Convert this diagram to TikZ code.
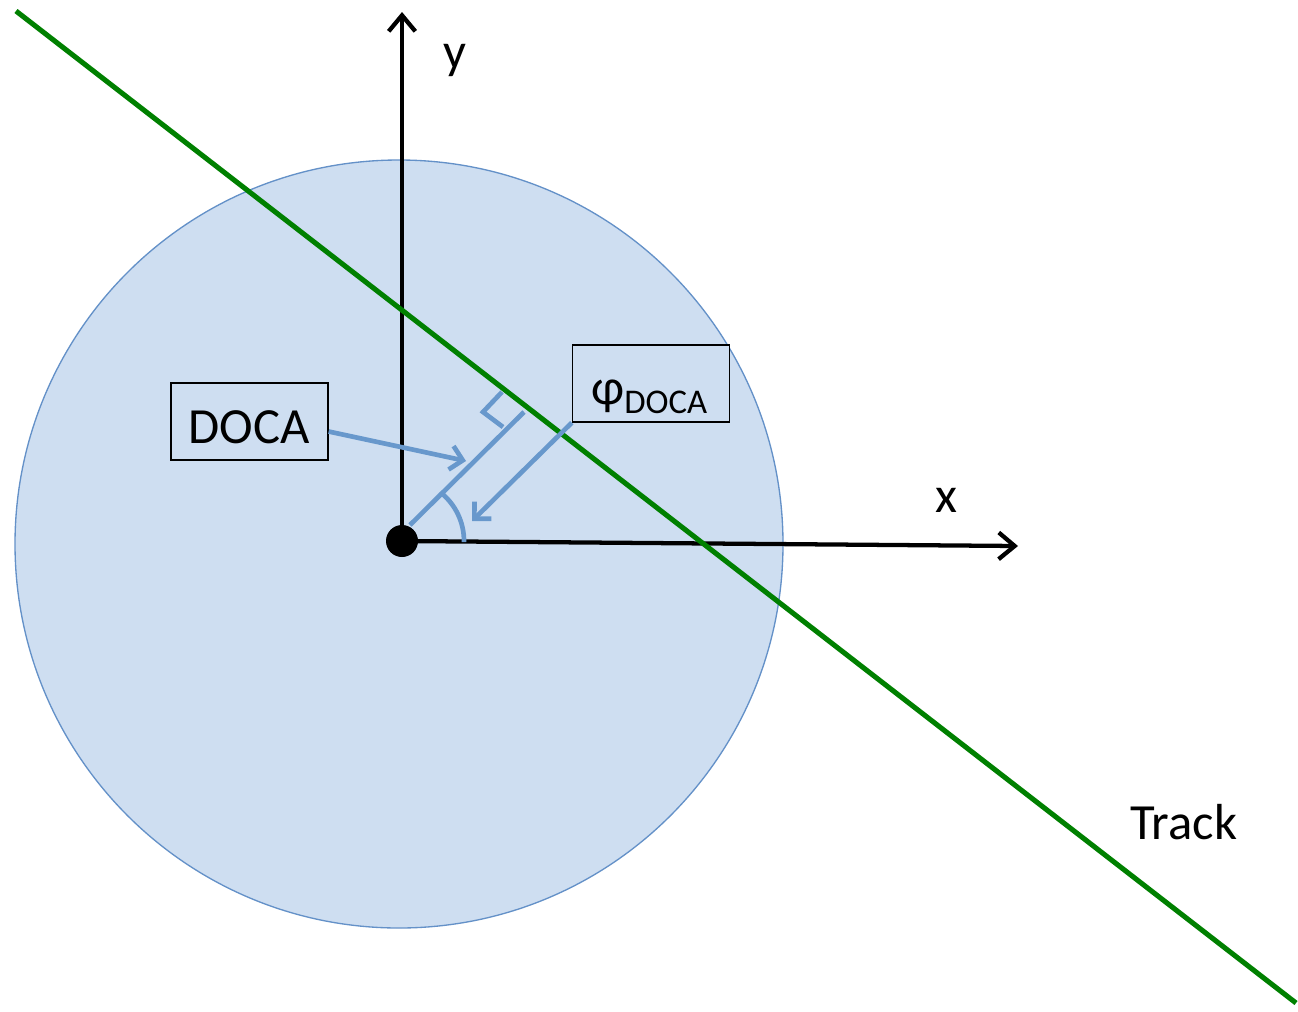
\documentclass[tikz,border=0pt]{standalone}
\usepackage{fontspec}
\setmainfont{Carlito}
\usetikzlibrary{arrows.meta}
\definecolor{circfill}{RGB}{206,222,241}
\definecolor{circline}{RGB}{100,145,200}
\definecolor{bluel}{RGB}{104,152,204}
\definecolor{trackg}{RGB}{0,128,0}
\tikzset{
  axis/.style={line width=3.2pt,-{Straight Barb[length=12pt,width=20pt,line width=3.2pt]}},
  blueline/.style={bluel,line width=3.5pt},
  bluearrow/.style={blueline,-{Straight Barb[length=9pt,width=18pt,line width=3.5pt]}},
  lbl/.style={font=\fontsize{38}{44}\selectfont,inner sep=0pt},
  box/.style={draw,line width=1pt,fill=circfill,minimum width=117.75pt,minimum height=57.75pt,inner sep=0pt}
}
\begin{document}
\begin{tikzpicture}[x=0.75pt,y=-0.75pt]
\useasboundingbox (0,0) rectangle (1298,1011);
% circle
\node[circle,draw=circline,line width=1pt,fill=circfill,minimum size=576pt,inner sep=0pt] (disc) at (399,544) {};
% axes
\coordinate (O) at (402,541);
\coordinate (ytip) at (402,12);
\coordinate (xtip) at (1018,546);
\draw[axis] (O) -- (ytip);
\draw[axis] (O) -- (xtip);
\node[lbl] (ylab) at (455,60) {y};
\node[lbl] (xlab) at (946,500) {x};
% track
\coordinate (t1) at (16,11);
\coordinate (t2) at (1296,1003);
\draw[trackg,line width=3.8pt] (t1) -- (t2);
\node[lbl,anchor=west] (tracklab) at (1130,822) {Track};
% DOCA line
\coordinate (d0) at (410,525);
\coordinate (d1) at (524,412);
\draw[blueline] (d0) -- (d1);
% right angle mark
\coordinate (r1) at (502,392);
\coordinate (r2) at (483,412);
\coordinate (r3) at (503,427);
\draw[blueline] (r1) -- (r2) -- (r3);
% angle arc
\draw[blueline] (O) ++(-52:62) arc[start angle=-52,end angle=1,radius=62];
% boxes
\node[box] (doca) at (249.5,421.5) {};
\node[lbl,anchor=base] (docatext) at (249,443) {DOCA};
\node[box] (phi) at (651,383.5) {};
\node[lbl,anchor=base west] (phitext) at (591,404) {φ\raisebox{-7pt}{\fontsize{26}{30}\selectfont DOCA}};
% arrows
\coordinate (dtip) at (466,461);
\coordinate (ptip) at (472,521);
\draw[bluearrow] (doca.east) ++(0,10) -- (dtip);
\draw[bluearrow] (phi.south west) -- (ptip);
% origin dot
\fill (O) circle[radius=12pt];
\end{tikzpicture}
\end{document}
